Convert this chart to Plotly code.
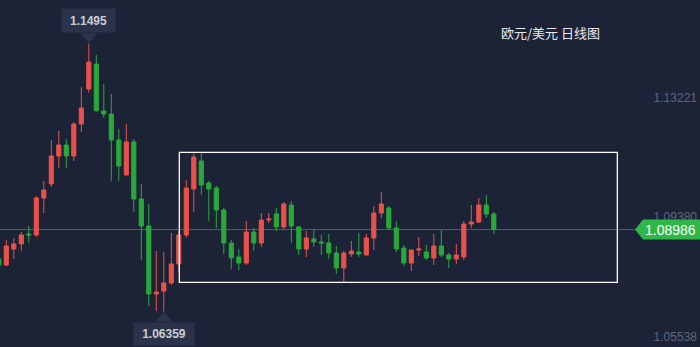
import plotly.graph_objects as go

# ---- data (EUR/USD daily candles) ----
idx = list(range(67))
open_ = [1.08045,1.07853,1.08365,1.08525,1.08845,1.08813,1.09997,1.10446,1.11342,1.11694,
         1.11342,1.12366,1.13487,1.14287,1.12783,1.12687,1.11854,1.10734,1.11790,1.09965,
         1.09101,1.06925,1.07021,1.07277,1.07885,1.08813,1.10286,1.11182,1.10478,1.10318,
         1.09613,1.08557,1.08109,1.07917,1.08909,1.08557,1.09293,1.09485,1.09069,1.09773,
         1.09069,1.08365,1.08685,1.08589,1.08557,1.08237,1.07757,1.08205,1.08269,1.08173,
         1.08717,1.09517,1.09677,1.09037,1.08397,1.07917,1.08333,1.08269,1.08077,1.08461,
         1.08173,1.08045,1.08109,1.09165,1.09229,1.09773,1.09485]
high = [1.08173,1.08653,1.08717,1.08909,1.09101,1.10062,1.10542,1.11854,1.12142,1.11886,
        1.12430,1.13541,1.14950,1.14575,1.13647,1.13327,1.12206,1.12366,1.11886,1.10446,
        1.09805,1.08301,1.08269,1.08877,1.08941,1.10574,1.11438,1.11438,1.10542,1.10382,
        1.09677,1.08653,1.08365,1.09261,1.09037,1.09517,1.09517,1.09677,1.09869,1.09901,
        1.09101,1.08941,1.08973,1.08813,1.08845,1.08461,1.08301,1.08621,1.08877,1.08845,
        1.09741,1.10190,1.09741,1.09261,1.08493,1.08340,1.08749,1.08493,1.08845,1.08973,
        1.08237,1.08525,1.09261,1.09773,1.09997,1.10094,1.09549]
low = [1.07757,1.07821,1.08045,1.08301,1.08557,1.08749,1.09517,1.10350,1.10958,1.10958,
       1.11182,1.12110,1.13368,1.12760,1.12568,1.10542,1.10542,1.10720,1.09549,1.08013,
       1.06541,1.06381,1.06359,1.07213,1.07597,1.08717,1.09549,1.10094,1.09261,1.09037,
       1.08205,1.07725,1.07693,1.07853,1.08301,1.08429,1.09197,1.08941,1.09005,1.08557,
       1.08173,1.08109,1.08429,1.08173,1.08045,1.07565,1.07309,1.08109,1.08109,1.08160,
       1.08333,1.09357,1.08973,1.08269,1.07821,1.07661,1.08141,1.08013,1.07853,1.08109,
       1.07757,1.07885,1.08013,1.09037,1.09197,1.09357,1.08845]
close = [1.07853,1.08461,1.08525,1.08813,1.08813,1.09997,1.10254,1.11342,1.11694,1.11342,
         1.12366,1.12879,1.14351,1.12792,1.12687,1.11854,1.11022,1.11790,1.09965,1.09101,
         1.06925,1.06989,1.07277,1.07885,1.08813,1.10318,1.11310,1.10414,1.10286,1.09613,
         1.08557,1.08077,1.07917,1.08909,1.08557,1.09293,1.09325,1.09069,1.09805,1.09101,
         1.08365,1.08717,1.08589,1.08557,1.08237,1.07757,1.08237,1.08301,1.08205,1.08717,
         1.09517,1.09805,1.09037,1.08365,1.07917,1.08333,1.08365,1.08077,1.08461,1.08173,
         1.08045,1.08173,1.09165,1.09229,1.09773,1.09485,1.08986]

y_ticks = [1.05538, 1.09380, 1.13221]
y_tick_text = ["1.05538", "1.09380", "1.13221"]
last_price = 1.08986
title_text = "欧元/美元 日线图"
high_label = "1.1495"
low_label = "1.06359"
box_x = [24.07, 82.47]
box_y = [1.07299, 1.11460]

BG = "#1c2337"
RED = "#e8524a"
GREEN = "#2aa83b"
TAG_BG = "#2a3349"

hi_i = max(idx, key=lambda i: high[i])
lo_i = min(idx, key=lambda i: low[i])

fig = go.Figure()
fig.add_trace(go.Candlestick(
    x=idx, open=open_, high=high, low=low, close=close,
    increasing=dict(line=dict(color=RED, width=1), fillcolor=RED),
    decreasing=dict(line=dict(color=GREEN, width=1), fillcolor=GREEN),
    whiskerwidth=0, hoverinfo="skip", showlegend=False,
))

shapes = [
    # current price line
    dict(type="line", xref="paper", yref="y", x0=0, x1=0.907, y0=last_price, y1=last_price,
         line=dict(color="#2f7a40", width=1), layer="below"),
    # white box
    dict(type="rect", xref="x", yref="y", x0=box_x[0], x1=box_x[1], y0=box_y[0], y1=box_y[1],
         line=dict(color="white", width=1.3), fillcolor="rgba(0,0,0,0)", layer="above"),
    # price tag
    dict(type="path", xref="paper", yref="y", xsizemode="pixel", ysizemode="pixel",
         xanchor=1, yanchor=last_price,
         path="M -65,0 L -57,10 L 0,10 L 0,-10 L -57,-10 Z",
         fillcolor="#2db847", line=dict(width=0), layer="above"),
    # high pointer
    dict(type="path", xref="x", yref="y", xsizemode="pixel", ysizemode="pixel",
         xanchor=hi_i, yanchor=high[hi_i],
         path="M -9,10 L 9,10 L 0,0 Z", fillcolor=TAG_BG, line=dict(width=0), layer="above"),
    # low pointer
    dict(type="path", xref="x", yref="y", xsizemode="pixel", ysizemode="pixel",
         xanchor=lo_i, yanchor=low[lo_i],
         path="M -9,-10 L 9,-10 L 0,0 Z", fillcolor=TAG_BG, line=dict(width=0), layer="above"),
]

annotations = [
    dict(text=title_text, xref="paper", yref="paper", x=499/700, y=1-32.7/347,
         xanchor="left", yanchor="middle", showarrow=False,
         font=dict(family="Noto Sans CJK SC", size=13, color="#e8eaf0")),
    dict(text=last_price and f"{last_price:.5f}", xref="paper", yref="y", x=1, y=last_price,
         xanchor="right", yanchor="middle", xshift=-2, showarrow=False,
         font=dict(family="Liberation Sans", size=14, color="white")),
    dict(text=f"<b>{high_label}</b>", xref="x", yref="y", x=hi_i, y=high[hi_i],
         xanchor="center", yanchor="bottom", yshift=10, showarrow=False,
         width=53, height=23, bgcolor=TAG_BG, borderpad=0,
         font=dict(family="Liberation Sans", size=12, color="#c9cdd6")),
    dict(text=f"<b>{low_label}</b>", xref="x", yref="y", x=lo_i, y=low[lo_i],
         xanchor="center", yanchor="top", yshift=-10.5, showarrow=False,
         width=60, height=22, bgcolor=TAG_BG, borderpad=0,
         font=dict(family="Liberation Sans", size=12, color="#c9cdd6")),
]

fig.update_layout(
    width=700, height=347,
    margin=dict(l=0, r=0, t=0, b=0),
    paper_bgcolor=BG, plot_bgcolor=BG,
    boxgap=0.45, boxgroupgap=0,
    shapes=shapes, annotations=annotations,
    xaxis=dict(range=[0.16, 93.49], visible=False, rangeslider=dict(visible=False),
               showgrid=False, zeroline=False),
    yaxis=dict(range=[1.05227, 1.16336], side="right", ticklabelposition="inside",
               tickvals=y_ticks, ticktext=y_tick_text, showgrid=False, zeroline=False,
               showline=False, ticks="",
               tickfont=dict(family="Liberation Sans", size=12, color="#5f687b")),
)

fig.write_html("out.html", config={"displayModeBar": False})
